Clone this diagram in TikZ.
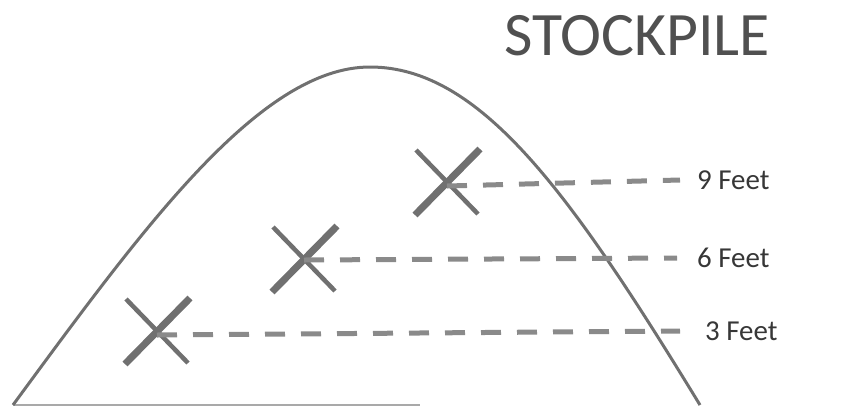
\documentclass[tikz,border=0pt]{standalone}
\usepackage{fontspec}
\setmainfont{Carlito}
\usetikzlibrary{calc}
\definecolor{pilegray}{RGB}{112,112,112}
\definecolor{dashgray}{RGB}{138,138,138}
\definecolor{titlegray}{RGB}{80,80,80}
\definecolor{labelgray}{RGB}{55,55,55}

\begin{document}
\begin{tikzpicture}[x=1bp, y=-1bp,
  pile/.style={draw=pilegray, line width=3bp},
  crossthin/.style={draw=pilegray, line width=4.5bp},
  crossthick/.style={draw=pilegray, line width=7bp},
  depthline/.style={draw=dashgray, line width=5bp, dash pattern=on 20bp off 16bp},
  depthlabel/.style={font=\fontsize{29}{32}\selectfont, text=labelgray, anchor=west, inner sep=0pt}]

% Canvas
\useasboundingbox (0,0) rectangle (846,406);

% Title
\node[font=\fontsize{62}{66}\selectfont, text=titlegray, inner sep=0pt] (title) at (637,36) {STOCKPILE};

% Ground
\draw[draw=pilegray!60, line width=2bp] (13,405) -- (420,405);

% Pile outline
\draw[pile] (13,405) .. controls (143,228) and (260,67) .. (370,67)
  .. controls (480,67) and (570,192) .. (700,405);

% Sample points
\coordinate (s3) at (157,331);
\coordinate (s6) at (304,259);
\coordinate (s9) at (447,182);

\foreach \s in {s3,s6,s9} {
  \draw[crossthin] ($(\s)+(-31,-32)$) -- ($(\s)+(31,32)$);
  \draw[crossthick] ($(\s)+(-32,33)$) -- ($(\s)+(33,-33)$);
}

% Depth labels
\node[depthlabel] (feet9) at (697,180) {9 Feet};
\node[depthlabel] (feet6) at (697,258) {6 Feet};
\node[depthlabel] (feet3) at (705,331) {3 Feet};

% Dashed depth lines
\draw[depthline] ($(s9)+(0,4)$) -- ([xshift=-17bp]feet9.west);
\draw[depthline] ($(s6)+(0,1)$) -- ([xshift=-20bp]feet6.west);
\draw[depthline] ($(s3)+(0,4)$) -- ([xshift=-25bp]feet3.west);

\end{tikzpicture}
\end{document}
